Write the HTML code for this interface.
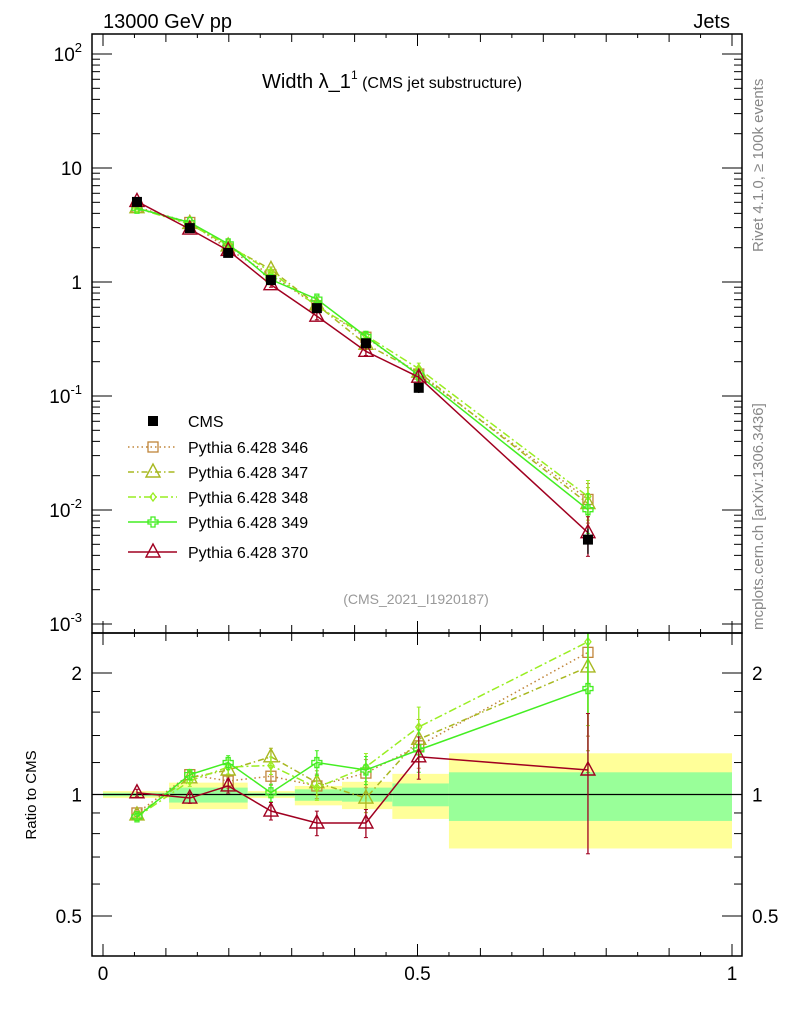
<!DOCTYPE html>
<html><head><meta charset="utf-8"><style>
html,body{margin:0;padding:0;background:#fff;}
svg{display:block;font-family:"Liberation Sans",sans-serif;}
</style></head><body>
<svg id="chart" width="786" height="1024" xmlns="http://www.w3.org/2000/svg">
<defs>
<clipPath id="clipMain"><rect x="92" y="34" width="650" height="599"/></clipPath>
<clipPath id="clipRatio"><rect x="92" y="633" width="650" height="323"/></clipPath>
</defs>
<g id="bands" clip-path="url(#clipRatio)"></g>
<g id="marks"></g>
<g id="frame"></g>
<text x="103" y="28" font-size="20">13000 GeV pp</text>
<text x="730" y="28" font-size="20" text-anchor="end">Jets</text>
<text x="262" y="88" font-size="20">Width λ_1<tspan font-size="12" dy="-9">1</tspan><tspan font-size="16" dy="9"> (CMS jet substructure)</tspan></text>
<text x="416" y="604" font-size="14" fill="#999" text-anchor="middle">(CMS_2021_I1920187)</text>
<text transform="translate(763,252) rotate(-90)" font-size="15" fill="#888">Rivet 4.1.0, ≥ 100k events</text>
<text transform="translate(763,630) rotate(-90)" font-size="15" fill="#888">mcplots.cern.ch [arXiv:1306.3436]</text>
<text transform="translate(36,795) rotate(-90)" font-size="15" text-anchor="middle">Ratio to CMS</text>
<g id="legend"></g>
</svg>
<script>
const xVals=[0.054,0.138,0.199,0.267,0.340,0.418,0.502,0.771];
const cmsVals=[5.04,2.97,1.80,1.04,0.59,0.29,0.118,0.0055];
const cmsErr=[0.03,0.03,0.04,0.05,0.06,0.07,0.10,0.25];
const binEdges=[0,0.105,0.23,0.305,0.38,0.46,0.55,1.0];
const yellowUp=[1.02,1.07,1.02,1.05,1.075,1.125,1.265];
const yellowDn=[0.98,0.92,0.98,0.94,0.92,0.87,0.735];
const greenUp=[1.01,1.04,1.01,1.03,1.04,1.065,1.135];
const greenDn=[0.99,0.955,0.99,0.965,0.96,0.935,0.86];
const r346=[0.90,1.12,1.08,1.11,1.05,1.13,1.32,2.25];
const r347=[0.89,1.10,1.15,1.24,1.07,0.98,1.37,2.07];
const r348=[0.88,1.08,1.17,1.18,1.04,1.17,1.47,2.39];
const r349=[0.88,1.12,1.20,1.01,1.20,1.15,1.29,1.83];
const r370=[1.01,0.98,1.05,0.91,0.85,0.85,1.24,1.15];
const mcErr=[0.02,0.03,0.04,0.05,0.07,0.08,0.12,0.38];
const mainTicks=["10^2","10","1","10^-1","10^-2","10^-3"];
const ratioTicks=[2,1,0.5];
const xTicks=[0,0.5,1];

const NS="http://www.w3.org/2000/svg";
const X=v=>103+629*v;
const YM=v=>282-114*Math.log10(v);
const YR=r=>794.5-121.5*Math.log2(r);
function el(tag,attrs,parent){const e=document.createElementNS(NS,tag);for(const k in attrs)e.setAttribute(k,attrs[k]);(parent||document.getElementById('marks')).appendChild(e);return e;}

const bands=document.getElementById('bands');
binEdges.slice(0,-1).forEach((e0,i)=>{
 const e1=binEdges[i+1];
 const y=el('rect',{x:X(e0),y:YR(yellowUp[i]),width:X(e1)-X(e0),height:YR(yellowDn[i])-YR(yellowUp[i]),fill:'#ffff99'},bands);
 
 
 const g=el('rect',{x:X(e0),y:YR(greenUp[i]),width:X(e1)-X(e0),height:YR(greenDn[i])-YR(greenUp[i]),fill:'#99ff99'},bands);
 
 
});
const one=el('line',{x1:92,x2:742,y1:YR(1),y2:YR(1),stroke:'#000','stroke-width':1.2});



const series=[
 {n:'346',r:r346,c:'#c0853a',dash:'1.5,3',m:'sq'},
 {n:'347',r:r347,c:'#a8b820',dash:'6,3,1.5,3',m:'tri'},
 {n:'348',r:r348,c:'#99ee22',dash:'8,3,2,3',m:'dia'},
 {n:'349',r:r349,c:'#44ee22',dash:'',m:'cross'},
 {n:'370',r:r370,c:'#a00020',dash:'',m:'tri'}];

function marker(g,m,x,y,c){
 let e;
 if(m==='sq')e=el('rect',{x:x-5,y:y-5,width:10,height:10,fill:'none',stroke:c,'stroke-width':1.3},g);
 else if(m==='tri')e=el('polygon',{points:`${x},${y-8} ${x-7},${y+5} ${x+7},${y+5}`,fill:'none',stroke:c,'stroke-width':1.4},g);
 else if(m==='dia')e=el('polygon',{points:`${x},${y-4} ${x-3},${y} ${x},${y+4} ${x+3},${y}`,fill:'none',stroke:c,'stroke-width':1.3},g);
 else e=el('path',{d:`M${x-2},${y-5}h4v3h3v4h-3v3h-4v-3h-3v-4h3z`,fill:'none',stroke:c,'stroke-width':1.3},g);
 return e;
}

series.forEach(s=>{
 ['main','ratio'].forEach(p=>{
  const g=el('g',{'clip-path':p==='main'?'url(#clipMain)':'url(#clipRatio)'});
  
  
  const val=i=>p==='main'?cmsVals[i]*s.r[i]:s.r[i];
  const Y=p==='main'?YM:YR;
  const pts=xVals.map((x,i)=>X(x)+','+Y(val(i))).join(' ');
  el('polyline',{points:pts,fill:'none',stroke:s.c,'stroke-width':1.5,'stroke-dasharray':s.dash},g);
  xVals.forEach((x,i)=>{
   const v=val(i),e=mcErr[i];
   el('line',{x1:X(x),x2:X(x),y1:Y(v*(1+e)),y2:Y(v*(1-e)),stroke:s.c,'stroke-width':1.3},g);
   el('line',{x1:X(x)-2,x2:X(x)+2,y1:Y(v*(1+e)),y2:Y(v*(1+e)),stroke:s.c},g);
   el('line',{x1:X(x)-2,x2:X(x)+2,y1:Y(v*(1-e)),y2:Y(v*(1-e)),stroke:s.c},g);
   const mk=marker(g,s.m,X(x),Y(v),s.c);
   
   
  });
 });
});

const cg=el('g',{'clip-path':'url(#clipMain)'});


xVals.forEach((x,i)=>{
 const v=cmsVals[i],e=cmsErr[i];
 el('line',{x1:X(x),x2:X(x),y1:YM(v*(1+e)),y2:YM(v*(1-e)),stroke:'#000','stroke-width':1.3},cg);
 const r=el('rect',{x:X(x)-5,y:YM(v)-5,width:10,height:10,fill:'#000'},cg);
 
 
});

const fr=document.getElementById('frame');
el('rect',{x:92,y:34,width:650,height:599,fill:'none',stroke:'#000','stroke-width':1.5},fr);
el('rect',{x:92,y:633,width:650,height:323,fill:'none',stroke:'#000','stroke-width':1.5},fr);
for(let k=0;k<=20;k++){
 const v=k*0.05,x=X(v),L=(k%10===0)?12:(k%2===0?8:4);
 [[34,1],[633,1],[956,-1],[633,-1]].forEach(([y0,d])=>el('line',{x1:x,x2:x,y1:y0,y2:y0+d*L,stroke:'#000'},fr));
}
for(let d=-3;d<=2;d++){
 for(let m=1;m<10;m++){
  if(d===2&&m>1)continue;
  const y=YM(m*Math.pow(10,d)),L=m===1?20:8;
  el('line',{x1:92,x2:92+L,y1:y,y2:y,stroke:'#000'},fr);
  el('line',{x1:742,x2:742-L,y1:y,y2:y,stroke:'#000'},fr);
 }
}
[0.5,0.6,0.7,0.8,0.9,1,1.2,1.4,1.6,1.8,2].forEach(r=>{
 const L=(r===0.5||r===1||r===2)?20:8,y=YR(r);
 el('line',{x1:92,x2:92+L,y1:y,y2:y,stroke:'#000'},fr);
 el('line',{x1:742,x2:742-L,y1:y,y2:y,stroke:'#000'},fr);
});
mainTicks.forEach((t,i)=>{
 const y=YM(Math.pow(10,2-i));
 const parts=t.split('^');
 const tx=el('text',{x:82,y:y+7,'font-size':19,'text-anchor':'end'},fr);
 
 
 if(parts.length>1){
  tx.textContent='10';
  const sp=el('tspan',{'font-size':13,dy:-9},tx);sp.textContent=parts[1];
 } else tx.textContent=t;
});
ratioTicks.forEach(r=>{
 const y=YR(r);
 const a=el('text',{x:82,y:y+7,'font-size':19,'text-anchor':'end'},fr);a.textContent=r;
 
 
 const b=el('text',{x:752,y:y+7,'font-size':19},fr);b.textContent=r;
 
 
});
xTicks.forEach(v=>{
 const t=el('text',{x:X(v),y:980,'font-size':19,'text-anchor':'middle'},fr);t.textContent=v;
 
 
});

const lg=document.getElementById('legend');
const ly=[421,447,472,497,522,552];
const cm=el('rect',{x:148,y:ly[0]-5,width:10,height:10,fill:'#000'},lg);


const ct=el('text',{x:188,y:ly[0]+6,'font-size':16},lg);ct.textContent='CMS';


series.forEach((s,i)=>{
 const y=ly[i+1];
 el('line',{x1:128,x2:177,y1:y,y2:y,stroke:s.c,'stroke-width':1.5,'stroke-dasharray':s.dash},lg);
 marker(lg,s.m,153,y,s.c);
 const t=el('text',{x:188,y:y+6,'font-size':16},lg);t.textContent='Pythia 6.428 '+s.n;
 
 
});
</script>
</body></html>
